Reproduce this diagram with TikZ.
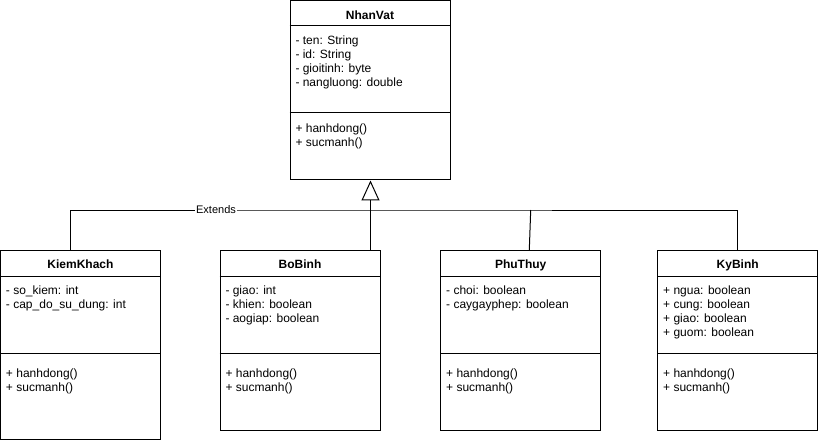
\documentclass[tikz,border=0pt]{standalone}
\usepackage{fontspec}
\setmainfont{Liberation Sans}
\usetikzlibrary{arrows.meta}
\begin{document}
\begin{tikzpicture}[x=0.75pt,y=-0.75pt,line width=0.75pt,
  classbox/.style={draw,rectangle,inner sep=0pt,minimum width=120pt},
  txt/.style={anchor=base west,inner sep=0pt,font=\fontsize{9}{10.5}\selectfont},
  ttl/.style={anchor=base,inner sep=0pt,font=\bfseries\fontsize{9}{10.5}\selectfont},
  lbl/.style={fill=white,inner sep=0.75pt,font=\fontsize{8.25}{9}\selectfont},
  inherit/.style={-{Triangle[open,length=15pt,width=13.5pt]}}
]
\useasboundingbox[fill=white] (0,0) rectangle (818,444);

% ---------- NhanVat ----------
\node[classbox,minimum height=134.6pt] (nv) at (370,90.25) {};
\draw (nv.north west) ++(0,25.5) -- ++(160,0);
\draw (nv.north west) ++(0,112.8) -- ++(160,0);
\node[ttl] (nvt) at (370,19) {NhanVat};
\node[txt] (nva1) at (295,44.5) {- ten: String};
\node[txt] (nva2) at (295,58.5) {- id: String};
\node[txt] (nva3) at (295,72.5) {- gioitinh: byte};
\node[txt] (nva4) at (295,86.5) {- nangluong: double};
\node[txt] (nvm1) at (295,132.5) {+ hanhdong()};
\node[txt] (nvm2) at (295,146.5) {+ sucmanh()};

% ---------- KiemKhach ----------
\node[classbox,minimum height=142.1pt] (kk) at (80.5,345.25) {};
\draw (kk.north west) ++(0,26) -- ++(160,0);
\draw (kk.north west) ++(0,103.5) -- ++(160,0);
\node[ttl] (kkt) at (80.5,268.5) {KiemKhach};
\node[txt] (kka1) at (5.5,294.5) {- so\_kiem: int};
\node[txt] (kka2) at (5.5,308.5) {- cap\_do\_su\_dung: int};
\node[txt] (kkm1) at (5.5,377) {+ hanhdong()};
\node[txt] (kkm2) at (5.5,391) {+ sucmanh()};

% ---------- BoBinh ----------
\node[classbox,minimum height=135pt] (bb) at (300,340.5) {};
\draw (bb.north west) ++(0,26) -- ++(160,0);
\draw (bb.north west) ++(0,103.5) -- ++(160,0);
\node[ttl] (bbt) at (300,268.5) {BoBinh};
\node[txt] (bba1) at (225,294.5) {- giao: int};
\node[txt] (bba2) at (225,308.5) {- khien: boolean};
\node[txt] (bba3) at (225,322.5) {- aogiap: boolean};
\node[txt] (bbm1) at (225,377) {+ hanhdong()};
\node[txt] (bbm2) at (225,391) {+ sucmanh()};

% ---------- PhuThuy ----------
\node[classbox,minimum height=135pt] (pt) at (520.7,340.5) {};
\draw (pt.north west) ++(0,26) -- ++(160,0);
\draw (pt.north west) ++(0,103.5) -- ++(160,0);
\node[ttl] (ptt) at (520.7,268.5) {PhuThuy};
\node[txt] (pta1) at (445.7,294.5) {- choi: boolean};
\node[txt] (pta2) at (445.7,308.5) {- caygayphep: boolean};
\node[txt] (ptm1) at (445.7,377) {+ hanhdong()};
\node[txt] (ptm2) at (445.7,391) {+ sucmanh()};

% ---------- KyBinh ----------
\node[classbox,minimum height=135pt] (kb) at (737.7,340.5) {};
\draw (kb.north west) ++(0,26) -- ++(160,0);
\draw (kb.north west) ++(0,103.5) -- ++(160,0);
\node[ttl] (kbt) at (737.7,268.5) {KyBinh};
\node[txt] (kba1) at (662.7,294.5) {+ ngua: boolean};
\node[txt] (kba2) at (662.7,308.5) {+ cung: boolean};
\node[txt] (kba3) at (662.7,322.5) {+ giao: boolean};
\node[txt] (kba4) at (662.7,336.5) {+ guom: boolean};
\node[txt] (kbm1) at (662.7,377) {+ hanhdong()};
\node[txt] (kbm2) at (662.7,391) {+ sucmanh()};

% ---------- connectors ----------
\coordinate (bus) at (370.5,210);
\coordinate (ptj) at (530.7,210);
\draw[inherit] (bb.north -| bus) -- (nv.south -| bus);
\draw ([xshift=-7.2pt]kk.north) |- (bus) -| (kb.north);
\draw (ptj) -- ([xshift=6.45pt]pt.north);
\node[lbl] (ext) at (216,210) {Extends};
\end{tikzpicture}
\end{document}
